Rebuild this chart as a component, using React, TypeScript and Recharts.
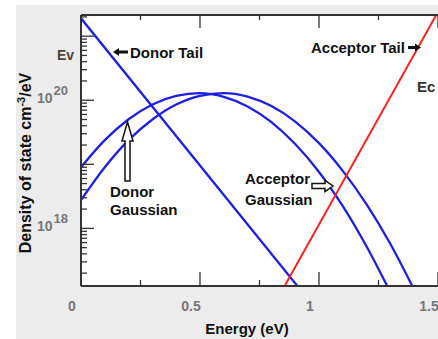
import React from 'react';
import { LineChart, Line, XAxis, YAxis, CartesianGrid } from 'recharts';

// energy axis (eV)
const energyTicks = [0, 0.25, 0.5, 0.75, 1, 1.25, 1.5];
const energyLabels = [0, 0.5, 1, 1.5];

// density axis (cm^-3/eV), log scale
const densityDomain = [1.26e17, 2.14e21];
const densityLabels = [
  { value: 1e18, exp: '18' },
  { value: 1e20, exp: '20' },
];

// band tails
const donorTailE = [0, 0.91];
const donorTailN = [1.9e21, 1.25e17];
const acceptorTailE = [0.855, 1.5];
const acceptorTailN = [1.25e17, 2.4e21];

// gaussian bands
const donorGaussE = [0, 0.1, 0.2, 0.3, 0.4, 0.5, 0.6, 0.7, 0.8, 0.9, 1.0, 1.1, 1.2, 1.3];
const donorGaussN = [9.0e18, 2.38e19, 5.05e19, 8.6e19, 1.17e20, 1.29e20, 1.13e20, 8.0e19, 4.55e19, 2.07e19, 7.6e18, 2.22e18, 5.2e17, 1.0e17];
const acceptorGaussE = [0, 0.1, 0.2, 0.3, 0.4, 0.5, 0.6, 0.7, 0.8, 0.9, 1.0, 1.1, 1.2, 1.3, 1.4];
const acceptorGaussN = [2.76e18, 9.0e18, 2.38e19, 5.0e19, 8.55e19, 1.17e20, 1.29e20, 1.14e20, 8.1e19, 4.65e19, 2.14e19, 7.9e18, 2.36e18, 5.7e17, 1.1e17];

const toPoints = (es: number[], ns: number[]) => es.map((e, i) => ({ e, n: ns[i] }));

const densityTicks: number[] = [];
for (let k = 17; k <= 21; k++) {
  for (let m = 1; m <= 9; m++) {
    const v = m * Math.pow(10, k);
    if (v >= densityDomain[0] && v <= densityDomain[1]) densityTicks.push(v);
  }
}

const FONT = '"Liberation Sans", Arial, sans-serif';
const BLUE = '#1f1fe0';
const RED = '#ff2020';
const AXIS = '#333';

const DensityTick = (props: any) => {
  const { x, y, payload } = props;
  const v = payload.value;
  const lg = Math.log10(v);
  const major = Math.abs(lg - Math.round(lg)) < 1e-6;
  const label = densityLabels.find(l => Math.abs(Math.log10(l.value) - lg) < 1e-6);
  return (
    <g>
      <line x1={x} y1={y} x2={x + (major ? 13 : 6)} y2={y} stroke={AXIS} strokeWidth={1.3} />
      {label && (
        <text x={x - 44} y={y + 3} fontSize={14} fontWeight="bold" fill="#777" fontFamily={FONT}>
          10
          <tspan dx={1} dy={-8} fontSize={13}>{label.exp}</tspan>
        </text>
      )}
    </g>
  );
};

const BottomTick = (props: any) => {
  const { x, y, payload } = props;
  const v = payload.value;
  const major = Math.abs(v * 2 - Math.round(v * 2)) < 1e-6;
  const labelled = energyLabels.includes(v);
  return (
    <g>
      <line x1={x} y1={y} x2={x} y2={y - (major ? 14 : 6)} stroke={AXIS} strokeWidth={1.3} />
      {labelled && (
        <text x={x - 9} y={y + 25} textAnchor="middle" fontSize={14} fontWeight="bold" fill="#777" fontFamily={FONT}>
          {v}
        </text>
      )}
    </g>
  );
};

const TopTick = (props: any) => {
  const { x, y, payload } = props;
  const v = payload.value;
  const major = Math.abs(v * 2 - Math.round(v * 2)) < 1e-6;
  return <line x1={x} y1={y} x2={x} y2={y + (major ? 13 : 5)} stroke={AXIS} strokeWidth={1.3} />;
};

const Annotations = () => (
  <svg width={438} height={339} style={{ position: 'absolute', left: 0, top: 0, pointerEvents: 'none' }}>
    <g fontFamily={FONT} fontWeight="bold" fontSize={15} fill="#111">
      <text x={57} y={60} fontSize={14} fill="#4a4536">Ev</text>
      <text x={130} y={58}>Donor Tail</text>
      <text x={311} y={53}>Acceptor Tail</text>
      <text x={417} y={92} fill="#333">Ec</text>
      <text x={110} y={197}>Donor</text>
      <text x={110} y={215}>Gaussian</text>
      <text x={245} y={184}>Acceptor</text>
      <text x={245} y={205}>Gaussian</text>
      <text x={247} y={334} textAnchor="middle">Energy (eV)</text>
      <text x={31} y={163} textAnchor="middle" fontSize={16} transform="rotate(-90, 31, 163)">
        Density of state cm<tspan dy={-6} fontSize={11}>-3</tspan>
        <tspan dy={6}>/eV</tspan>
      </text>
    </g>
    {/* donor tail pointer */}
    <path d="M113,52 L119,48 L119,50.5 L128,50.5 L128,53.5 L119,53.5 L119,56 Z" fill="#111" />
    {/* acceptor tail pointer */}
    <path d="M408,46 L415,46 L415,43.5 L421,47.5 L415,51.5 L415,49 L408,49 Z" fill="#111" />
    {/* donor gaussian arrow */}
    <path d="M125,181 L125,141 L122,141 L127.5,122 L133,141 L130,141 L130,181 Z" fill="#fff" stroke="#111" strokeWidth={1.5} />
    {/* acceptor gaussian arrow */}
    <path d="M312,183.5 L325,183.5 L325,180.5 L333,186 L325,191.5 L325,188.5 L312,188.5 Z" fill="#fff" stroke="#111" strokeWidth={1.5} />
  </svg>
);

export default function App() {
  return (
    <div style={{ position: 'absolute', left: 0, top: 0, width: 438, height: 339, background: '#fff', overflow: 'hidden' }}>
      <div style={{ position: 'absolute', left: 16, top: 5, right: 0, bottom: 0, background: '#ececec' }} />
      <div style={{ position: 'absolute', left: 0, top: 0 }}>
        <LineChart width={438} height={339} margin={{ top: 14, right: 0, bottom: 52, left: 80 }}>
          <CartesianGrid xAxisId="bottom" horizontal={false} vertical={false} fill="#fff" />
          <XAxis
            xAxisId="bottom"
            type="number"
            dataKey="e"
            domain={[0, 1.5]}
            ticks={energyTicks}
            interval={0}
            allowDataOverflow
            height={1}
            tickSize={0}
            tickMargin={0}
            tickLine={false}
            tick={BottomTick}
            axisLine={{ stroke: AXIS, strokeWidth: 2 }}
          />
          <XAxis
            xAxisId="top"
            orientation="top"
            type="number"
            dataKey="e"
            domain={[0, 1.5]}
            ticks={energyTicks}
            interval={0}
            allowDataOverflow
            height={1}
            tickSize={0}
            tickMargin={0}
            tickLine={false}
            tick={TopTick}
            axisLine={{ stroke: AXIS, strokeWidth: 2 }}
          />
          <YAxis
            type="number"
            scale="log"
            domain={densityDomain}
            ticks={densityTicks}
            interval={0}
            allowDataOverflow
            width={1}
            tickSize={0}
            tickMargin={0}
            tickLine={false}
            tick={DensityTick}
            axisLine={{ stroke: AXIS, strokeWidth: 2 }}
          />
          <Line xAxisId="bottom" data={toPoints(donorTailE, donorTailN)} dataKey="n" type="linear" stroke={BLUE} strokeWidth={2.3} dot={false} isAnimationActive={false} />
          <Line xAxisId="bottom" data={toPoints(donorGaussE, donorGaussN)} dataKey="n" type="monotone" stroke={BLUE} strokeWidth={2.3} dot={false} isAnimationActive={false} />
          <Line xAxisId="bottom" data={toPoints(acceptorGaussE, acceptorGaussN)} dataKey="n" type="monotone" stroke={BLUE} strokeWidth={2.3} dot={false} isAnimationActive={false} />
          <Line xAxisId="bottom" data={toPoints(acceptorTailE, acceptorTailN)} dataKey="n" type="linear" stroke={RED} strokeWidth={2} dot={false} isAnimationActive={false} />
        </LineChart>
      </div>
      <Annotations />
    </div>
  );
}
